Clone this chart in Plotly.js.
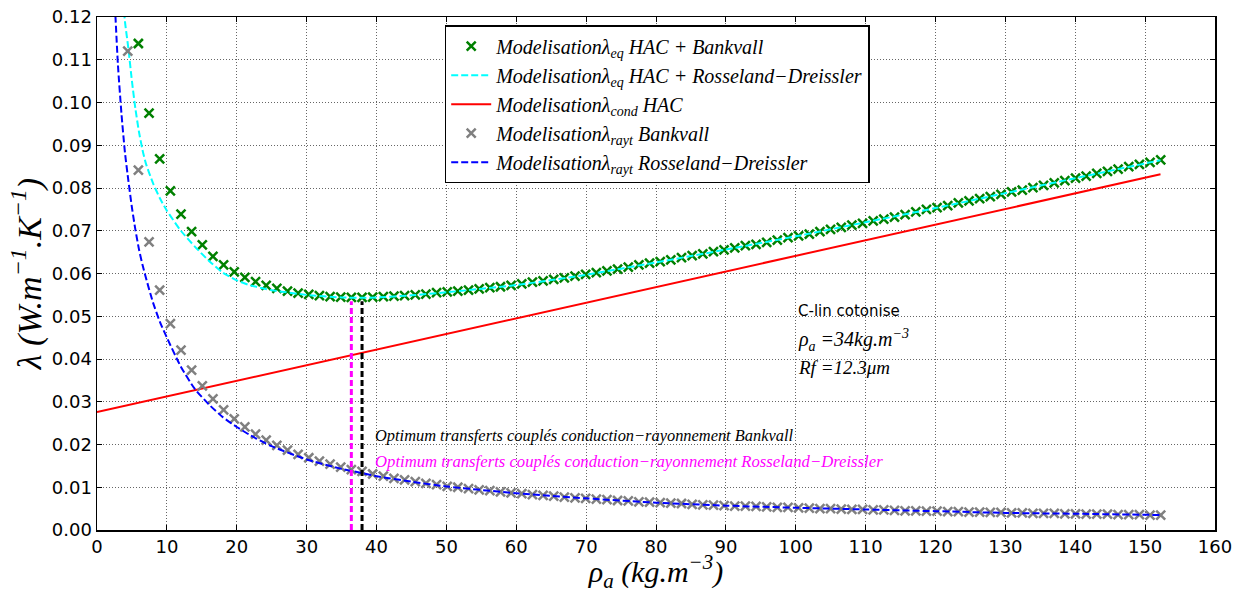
<!DOCTYPE html>
<html>
<head>
<meta charset="utf-8">
<script src="https://cdn.plot.ly/plotly-3.0.1.min.js"></script>
<style>html,body{margin:0;padding:0;background:#fff;}#chart{width:1253px;height:593px;}</style>
</head>
<body>
<div id="chart"></div>
<script>
// Density grid of the modelled points (kg.m^-3)
const rho = [4.40, 5.92, 7.45, 8.97, 10.50, 12.02, 13.54, 15.07, 16.59, 18.12,
  19.64, 21.16, 22.69, 24.21, 25.74, 27.26, 28.78, 30.31, 31.83, 33.36,
  34.88, 36.40, 37.93, 39.45, 40.98, 42.50, 44.02, 45.55, 47.07, 48.60,
  50.12, 51.64, 53.17, 54.69, 56.22, 57.74, 59.26, 60.79, 62.31, 63.84,
  65.36, 66.88, 68.41, 69.93, 71.46, 72.98, 74.50, 76.03, 77.55, 79.08,
  80.60, 82.12, 83.65, 85.17, 86.70, 88.22, 89.74, 91.27, 92.79, 94.32,
  95.84, 97.36, 98.89, 100.41, 101.94, 103.46, 104.98, 106.51, 108.03, 109.56,
  111.08, 112.60, 114.13, 115.65, 117.18, 118.70, 120.22, 121.75, 123.27, 124.80,
  126.32, 127.84, 129.37, 130.89, 132.42, 133.94, 135.46, 136.99, 138.51, 140.04,
  141.56, 143.08, 144.61, 146.13, 147.66, 149.18, 150.70, 152.23];

// lambda_eq HAC + Bankvall (green crosses)
const lamEqBankvall = [0.1412, 0.1138, 0.0975, 0.0868, 0.0793, 0.0739, 0.0698, 0.0667, 0.0640, 0.0620,
  0.0604, 0.0591, 0.0581, 0.0572, 0.0565, 0.0559, 0.0554, 0.0551, 0.0548, 0.0546,
  0.0545, 0.0544, 0.0544, 0.0545, 0.0546, 0.0547, 0.0548, 0.0550, 0.0552, 0.0555,
  0.0557, 0.0559, 0.0561, 0.0564, 0.0567, 0.0569, 0.0572, 0.0576, 0.0580, 0.0583,
  0.0586, 0.0590, 0.0594, 0.0598, 0.0602, 0.0606, 0.0610, 0.0615, 0.0620, 0.0624,
  0.0628, 0.0632, 0.0637, 0.0642, 0.0646, 0.0651, 0.0655, 0.0660, 0.0665, 0.0668,
  0.0673, 0.0678, 0.0684, 0.0688, 0.0692, 0.0698, 0.0703, 0.0708, 0.0713, 0.0717,
  0.0723, 0.0727, 0.0732, 0.0738, 0.0744, 0.0750, 0.0754, 0.0759, 0.0765, 0.0770,
  0.0775, 0.0780, 0.0785, 0.0791, 0.0795, 0.0801, 0.0806, 0.0812, 0.0817, 0.0823,
  0.0828, 0.0834, 0.0839, 0.0844, 0.0850, 0.0855, 0.0860, 0.0866];

// lambda_rayt Bankvall (grey crosses)
const lamRaytBankvall = [0.1120, 0.0842, 0.0674, 0.0561, 0.0483, 0.0421, 0.0374, 0.0337, 0.0307, 0.0281,
  0.0260, 0.0241, 0.0224, 0.0210, 0.0198, 0.0187, 0.0177, 0.0169, 0.0161, 0.0154,
  0.0147, 0.0141, 0.0137, 0.0131, 0.0126, 0.0121, 0.0117, 0.0113, 0.0109, 0.0106,
  0.0102, 0.0100, 0.0097, 0.0094, 0.0092, 0.0089, 0.0087, 0.0085, 0.0083, 0.0081,
  0.0079, 0.0077, 0.0075, 0.0074, 0.0072, 0.0071, 0.0069, 0.0068, 0.0066, 0.0065,
  0.0064, 0.0063, 0.0062, 0.0060, 0.0059, 0.0058, 0.0057, 0.0056, 0.0056, 0.0055,
  0.0054, 0.0053, 0.0053, 0.0052, 0.0051, 0.0050, 0.0050, 0.0049, 0.0048, 0.0048,
  0.0047, 0.0047, 0.0046, 0.0045, 0.0045, 0.0044, 0.0044, 0.0043, 0.0043, 0.0042,
  0.0042, 0.0041, 0.0041, 0.0040, 0.0040, 0.0039, 0.0039, 0.0039, 0.0038, 0.0038,
  0.0037, 0.0037, 0.0037, 0.0036, 0.0036, 0.0036, 0.0035, 0.0035];

// Rosseland-Dreissler curves
const rhoCurve = [2.5, 3, 3.5, 4, 4.5, 5, 5.5, 6, 6.5, 7, 8, 9, 10, 12, 14, 16, 18, 20, 22, 25,
  30, 35, 38, 40, 45, 50, 60, 70, 80, 90, 100, 110, 120, 130, 140, 152.2];
const lamEqRosseland = [0.1540, 0.1390, 0.1290, 0.1190, 0.1125, 0.1050, 0.0985, 0.0932, 0.0890, 0.0857,
  0.0812, 0.0776, 0.0747, 0.0700, 0.0663, 0.0630, 0.0602, 0.0584, 0.0572, 0.0561,
  0.0550, 0.0544, 0.0543, 0.0544, 0.0549, 0.0556, 0.0573, 0.0597, 0.0626, 0.0656,
  0.0687, 0.0720, 0.0753, 0.0788, 0.0823, 0.0865];
const lamRaytRosseland = [0.1250, 0.1087, 0.0974, 0.0883, 0.0816, 0.0754, 0.0702, 0.0657, 0.0621, 0.0590,
  0.0533, 0.0487, 0.0450, 0.0382, 0.0330, 0.0294, 0.0264, 0.0241, 0.0221, 0.0196,
  0.0165, 0.0143, 0.0133, 0.0126, 0.0113, 0.0102, 0.0086, 0.0074, 0.0064, 0.0057,
  0.0052, 0.0048, 0.0044, 0.0040, 0.0038, 0.0035];

// lambda_cond HAC (straight line)
const rhoCond = [0, 152.2];
const lamCond = [0.0276, 0.0832];

// Optimum markers (vertical lines)
const optRhoBankvall = 37.93;
const optRhoRosseland = 36.40;
const optTop = 0.0535;

const legendNames = [
  "<i>Modelisationλ<sub>eq</sub> HAC + Bankvall</i>",
  "<i>Modelisationλ<sub>eq</sub> HAC + Rosseland−Dreissler</i>",
  "<i>Modelisationλ<sub>cond</sub> HAC</i>",
  "<i>Modelisationλ<sub>rayt</sub> Bankvall</i>",
  "<i>Modelisationλ<sub>rayt</sub> Rosseland−Dreissler</i>"
];

const dashStyle = "7px,3px";

const traces = [
  {x: rho, y: lamEqBankvall, type: 'scatter', mode: 'markers', name: legendNames[0], legendgroup: 'a',
   marker: {symbol: 'x-thin', size: 9, color: '#008000', line: {color: '#008000', width: 2.5}}},
  {x: rhoCurve, y: lamEqRosseland, type: 'scatter', mode: 'lines', name: legendNames[1], legendgroup: 'b',
   line: {color: '#00ffff', width: 2, dash: dashStyle, shape: 'spline', smoothing: 0.6}},
  {x: rhoCond, y: lamCond, type: 'scatter', mode: 'lines', name: legendNames[2], legendgroup: 'c',
   line: {color: '#ff0000', width: 2}},
  {x: rho, y: lamRaytBankvall, type: 'scatter', mode: 'markers', name: legendNames[3], legendgroup: 'd',
   marker: {symbol: 'x-thin', size: 9, color: '#808080', line: {color: '#808080', width: 2.5}}},
  {x: rhoCurve, y: lamRaytRosseland, type: 'scatter', mode: 'lines', name: legendNames[4], legendgroup: 'e',
   line: {color: '#0000ff', width: 2, dash: dashStyle, shape: 'spline', smoothing: 0.6}},
  {x: [optRhoRosseland, optRhoRosseland], y: [0, optTop], type: 'scatter', mode: 'lines', showlegend: false,
   line: {color: '#ff00ff', width: 3, dash: '6px,3px'}},
  {x: [optRhoBankvall, optRhoBankvall], y: [0, optTop], type: 'scatter', mode: 'lines', showlegend: false,
   line: {color: '#000000', width: 3, dash: '6px,3px'}}
];

const serif = 'Liberation Serif, DejaVu Serif, serif';
const sans = 'DejaVu Sans, sans-serif';

const layout = {
  width: 1253, height: 593,
  margin: {l: 97, r: 38, t: 17, b: 63, pad: 0},
  paper_bgcolor: '#ffffff', plot_bgcolor: '#ffffff',
  showlegend: true,
  legend: {x: 0.311, y: 0.984, xanchor: 'left', yanchor: 'top', bgcolor: '#ffffff',
    bordercolor: '#000000', borderwidth: 1.5, font: {family: serif, size: 20, color: '#000'},
    tracegroupgap: 0, itemwidth: 40},
  xaxis: {range: [0, 160], tick0: 0, dtick: 10, ticks: 'inside', ticklen: 5, tickcolor: '#000',
    showline: true, linecolor: '#000', linewidth: 1.5, mirror: 'ticks', zeroline: false,
    showgrid: true, gridcolor: '#666', griddash: '1px,2px', gridwidth: 1,
    tickfont: {family: sans, size: 18, color: '#000'},
    title: {text: '<i>ρ<sub>a</sub> (kg.m<sup>−3</sup>)</i>', font: {family: serif, size: 30, color: '#000'}, standoff: 12}},
  yaxis: {range: [0, 0.12], tick0: 0, dtick: 0.01, tickformat: '.2f', ticks: 'inside', ticklen: 5, tickcolor: '#000',
    showline: true, linecolor: '#000', linewidth: 1.5, mirror: 'ticks', zeroline: false,
    showgrid: true, gridcolor: '#666', griddash: '1px,2px', gridwidth: 1,
    tickfont: {family: sans, size: 18, color: '#000'},
    title: {text: '<i>λ (W.m<sup>−1</sup>.K<sup>−1</sup>)</i>', font: {family: serif, size: 34, color: '#000'}, standoff: 0}},
  annotations: [
    {x: 100, y: 0.0512, xref: 'x', yref: 'y', xanchor: 'left', yanchor: 'middle', showarrow: false,
     text: 'C-lin cotonise', font: {family: sans, size: 15, color: '#000'}},
    {x: 100, y: 0.0444, xref: 'x', yref: 'y', xanchor: 'left', yanchor: 'middle', showarrow: false,
     text: '<i>ρ<sub>a</sub> =34kg.m<sup>−3</sup></i>', font: {family: serif, size: 20, color: '#000'}},
    {x: 100, y: 0.0379, xref: 'x', yref: 'y', xanchor: 'left', yanchor: 'middle', showarrow: false,
     text: '<i>Rf =12.3μm</i>', font: {family: serif, size: 19, color: '#000'}},
    {x: 39.5, y: 0.0222, xref: 'x', yref: 'y', xanchor: 'left', yanchor: 'middle', showarrow: false,
     text: '<i>Optimum transferts couplés conduction−rayonnement Bankvall</i>', font: {family: serif, size: 16.4, color: '#000'}},
    {x: 39.5, y: 0.0160, xref: 'x', yref: 'y', xanchor: 'left', yanchor: 'middle', showarrow: false,
     text: '<i>Optimum transferts couplés conduction−rayonnement Rosseland−Dreissler</i>', font: {family: serif, size: 16.7, color: '#ff00ff'}}
  ]
};

Plotly.newPlot('chart', traces, layout, {displayModeBar: false, staticPlot: true});
</script>
</body>
</html>
